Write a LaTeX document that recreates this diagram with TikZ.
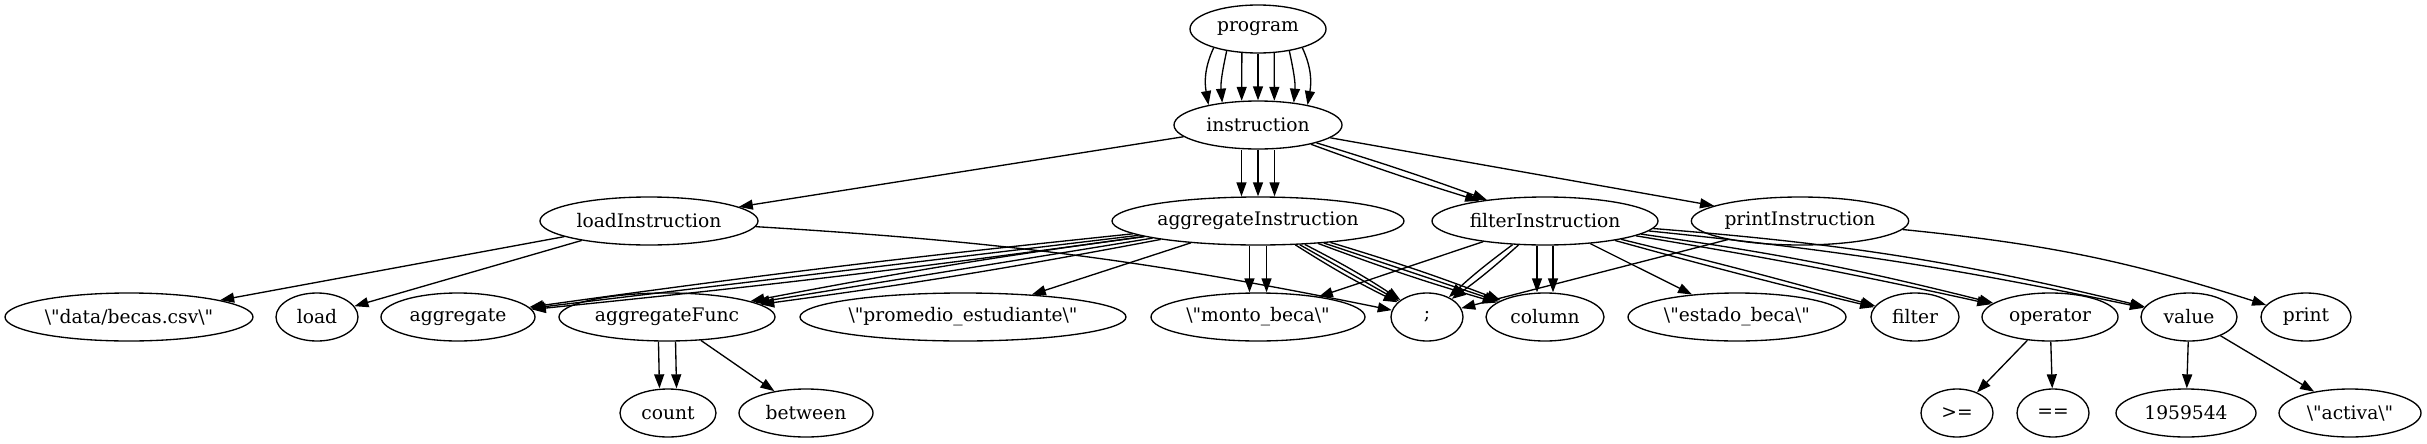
\documentclass[tikz,border=0pt]{standalone}
\usepackage{fontspec}
\setmainfont{DejaVu Serif}[Ligatures=TeXOff]
\usetikzlibrary{arrows.meta,shapes.geometric}
\newcommand{\qt}{\textbackslash"}

\begin{document}
\begin{tikzpicture}[x=0.75pt, y=0.75pt,
  tok/.style={ellipse, draw, line width=1pt, inner sep=0pt, minimum height=36pt, font=\fontsize{14}{16}\selectfont},
  link/.style={-{Triangle[length=10.5pt,width=7.5pt]}, line width=1pt}]
\useasboundingbox (0,0) rectangle (2427,-443);
% root and instructions
\node[tok, minimum width=102pt] (prog) at (1258,-29) {program};
\node[tok, minimum width=126pt] (instr) at (1258,-125) {instruction};
\node[tok, minimum width=163.5pt] (loadI) at (649,-221) {loadInstruction};
\node[tok, minimum width=219pt] (aggI) at (1258,-221) {aggregateInstruction};
\node[tok, minimum width=169.5pt] (filtI) at (1545,-221) {filterInstruction};
\node[tok, minimum width=163pt] (printI) at (1800,-221) {printInstruction};
% tokens
\node[tok, minimum width=186pt] (csv) at (129,-317) {\qt data/becas.csv\qt};
\node[tok, minimum width=61.5pt] (kwLoad) at (317,-317) {load};
\node[tok, minimum width=115.5pt] (kwAgg) at (458,-317) {aggregate};
\node[tok, minimum width=162pt] (aggFunc) at (667,-317) {aggregateFunc};
\node[tok, minimum width=244.5pt] (strProm) at (963,-317) {\qt promedio\_estudiante\qt};
\node[tok, minimum width=160.5pt] (strMonto) at (1258,-317) {\qt monto\_beca\qt};
\node[tok, minimum width=54pt] (semi) at (1427,-317) {;};
\node[tok, minimum width=88.5pt] (col) at (1545,-317) {column};
\node[tok, minimum width=163.5pt] (strEstado) at (1737,-317) {\qt estado\_beca\qt};
\node[tok, minimum width=66pt] (kwFilter) at (1915,-317) {filter};
\node[tok, minimum width=102pt] (oper) at (2050,-317) {operator};
\node[tok, minimum width=72pt] (val) at (2189,-317) {value};
\node[tok, minimum width=67.5pt] (kwPrint) at (2306,-317) {print};
% leaves
\node[tok, minimum width=72pt] (fnCount) at (668,-413) {count};
\node[tok, minimum width=100.5pt] (fnBetween) at (806,-413) {between};
\node[tok, minimum width=54pt] (opGe) at (1957,-413) {>=};
\node[tok, minimum width=54pt] (opEq) at (2053,-413) {==};
\node[tok, minimum width=105pt] (num) at (2186,-413) {1959544};
\node[tok, minimum width=106.5pt] (strActiva) at (2350,-413) {\qt activa\qt};
% program -> instruction
\foreach \a/\b/\o/\i in {203/158/245/100, 215/148/258/95, 236/124/270/90, 270/90/270/90,
                         304/56/270/90, 325/32/282/85, 337/22/295/80}
  \draw[link] (prog.\a) to[out=\o,in=\i] (instr.\b);
% instruction -> kinds
\draw[link] (instr) -- (loadI);
\foreach \s in {-12.4,0,12.4}
  \draw[link] ([xshift=\s pt]instr.south) -- ([xshift=\s pt]aggI.north);
\foreach \b in {-1.5,1.5}
  \draw[link] (instr) to[bend left=\b] (filtI);
\draw[link] (instr) -- (printI);
% load
\draw[link] (loadI) -- (csv);
\draw[link] (loadI) -- (kwLoad);
\draw[link] (loadI) to[bend left=4] (semi);
% aggregate
\foreach \b in {-1,0,1}
  \draw[link] (aggI) to[bend left=\b] (kwAgg);
\foreach \b in {-1.5,0,1.5}
  \draw[link] (aggI) to[bend left=\b] (aggFunc);
\draw[link] (aggI) -- (strProm);
\foreach \s in {-6.4,6.4}
  \draw[link] ([xshift=\s pt]aggI.south) -- ([xshift=\s pt]strMonto.north);
\foreach \b in {-3,0,3}
  \draw[link] (aggI) to[bend left=\b] (semi);
\foreach \b in {-2,0,2}
  \draw[link] (aggI) to[bend left=\b] (col);
\foreach \s in {-6.4,6.4}
  \draw[link] ([xshift=\s pt]aggFunc.south) -- ([xshift=\s pt]fnCount.north);
\draw[link] (aggFunc) -- (fnBetween);
% filter
\draw[link] (filtI) -- (strMonto);
\foreach \b in {-3,3}
  \draw[link] (filtI) to[bend left=\b] (semi);
\foreach \s in {-6,6}
  \draw[link] ([xshift=\s pt]filtI.south) -- ([xshift=\s pt]col.north);
\draw[link] (filtI) -- (strEstado);
\foreach \b in {-1,1}
  \draw[link] (filtI) to[bend left=\b] (kwFilter);
\foreach \b in {1.5,3}
  \draw[link] (filtI) to[bend left=\b] (oper);
\foreach \b in {3,4.5}
  \draw[link] (filtI) to[bend left=\b] (val);
\draw[link] (oper) -- (opGe);
\draw[link] (oper) -- (opEq);
\draw[link] (val) -- (num);
\draw[link] (val) -- (strActiva);
% print
\draw[link] (printI) -- (semi);
\draw[link] (printI) to[bend left=6] (kwPrint);
\end{tikzpicture}
\end{document}
